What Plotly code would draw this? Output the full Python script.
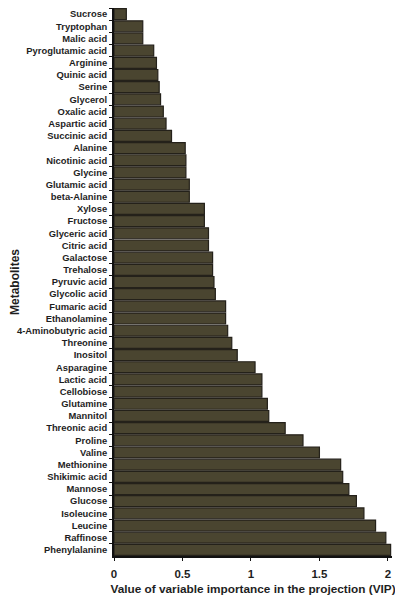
import plotly.graph_objects as go

metabolites = ["Sucrose", "Tryptophan", "Malic acid", "Pyroglutamic acid", "Arginine",
               "Quinic acid", "Serine", "Glycerol", "Oxalic acid", "Aspartic acid",
               "Succinic acid", "Alanine", "Nicotinic acid", "Glycine", "Glutamic acid",
               "beta-Alanine", "Xylose", "Fructose", "Glyceric acid", "Citric acid",
               "Galactose", "Trehalose", "Pyruvic acid", "Glycolic acid", "Fumaric acid",
               "Ethanolamine", "4-Aminobutyric acid", "Threonine", "Inositol", "Asparagine",
               "Lactic acid", "Cellobiose", "Glutamine", "Mannitol", "Threonic acid",
               "Proline", "Valine", "Methionine", "Shikimic acid", "Mannose",
               "Glucose", "Isoleucine", "Leucine", "Raffinose", "Phenylalanine"]

vip = [0.09, 0.21, 0.21, 0.29, 0.31,
       0.32, 0.33, 0.34, 0.36, 0.38,
       0.42, 0.52, 0.525, 0.525, 0.55,
       0.55, 0.66, 0.66, 0.69, 0.69,
       0.72, 0.72, 0.73, 0.74, 0.815,
       0.815, 0.83, 0.86, 0.90, 1.03,
       1.08, 1.08, 1.12, 1.13, 1.25,
       1.38, 1.50, 1.655, 1.67, 1.715,
       1.77, 1.825, 1.91, 1.985, 2.02]

x_ticks = [0, 0.5, 1, 1.5, 2]

font = "Liberation Sans, Arial, sans-serif"

fig = go.Figure(go.Bar(
    x=vip, y=metabolites, orientation="h",
    marker=dict(color="#4a4530", line=dict(color="#24211a", width=1.2)),
    width=0.9))

# the page body adds 8px on the left and top, so the figure is 8px smaller
fig.update_layout(
    width=395, height=591,
    margin=dict(l=106, r=11, t=0, b=43),
    paper_bgcolor="white", plot_bgcolor="white",
    showlegend=False,
    bargap=0.1,
    font=dict(family=font, color="#1e1e1e"))

fig.update_xaxes(
    range=[0, 2.03], tickvals=x_ticks, ticktext=["0", "0.5", "1", "1.5", "2"],
    showgrid=False, zeroline=False, automargin=False,
    showline=True, linecolor="#111", linewidth=1.5,
    ticks="outside", ticklen=3, tickcolor="#111", ticklabelstandoff=3,
    tickfont=dict(size=11.5, family=font, weight="bold"),
    title=dict(text="<b>Value of variable importance in the projection (VIP)</b>",
               font=dict(size=11.8), standoff=6))

fig.update_yaxes(
    categoryorder="array", categoryarray=metabolites, autorange="reversed",
    showgrid=False, zeroline=False, automargin=False,
    showline=True, linecolor="#111", linewidth=2,
    ticks="outside", ticklen=3, tickcolor="#111", tickson="boundaries",
    ticklabelstandoff=3,
    tickfont=dict(size=9.4, family=font, weight="bold"))

# rotated y title placed by hand at the far left
fig.add_annotation(
    text="<b>Metabolites</b>", xref="paper", yref="paper",
    x=-0.356, y=0.5, xanchor="center", yanchor="middle",
    textangle=-90, showarrow=False, font=dict(size=12))

fig.write_html("out.html")
